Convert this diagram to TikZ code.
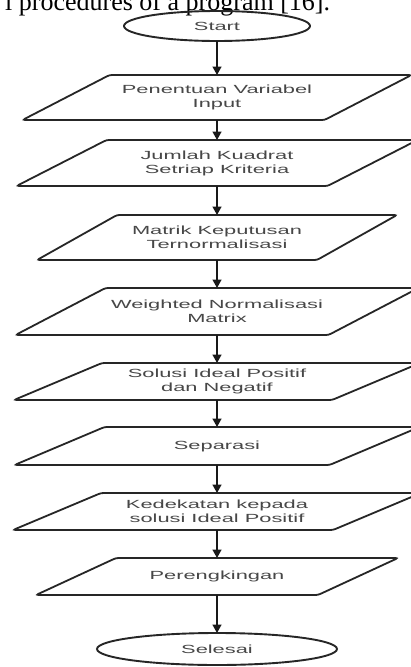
\documentclass[tikz,border=0pt]{standalone}
\usepackage{fontspec}
\setmainfont{Liberation Serif}
\newfontfamily\flowfont[FakeStretch=1.85]{Liberation Sans}
\usetikzlibrary{arrows.meta,shapes.geometric}
\tikzset{
  ptext/.style={inner sep=0pt, outer sep=0pt, align=center, text=black!72,
    font=\flowfont\fontsize{11.8}{14}\selectfont},
  pline/.style={draw=black!85, line width=1.8pt, rounded corners=2.5pt},
  term/.style={ptext, ellipse, draw=black!85, line width=1.9pt},
  flow/.style={-{Triangle[length=8.5pt,width=9pt]}, line width=1.4pt, draw=black!90},
}
% name, y, width, height, half slant, text
\newcommand\flowpara[6]{%
  \node[ptext, minimum width=#3, minimum height=#4] (#1) at (217,#2) {#6};
  \draw[pline] ([xshift=#5]#1.north west) -- ([xshift=#5]#1.north east)
    -- ([xshift=-#5]#1.south east) -- ([xshift=-#5]#1.south west) -- cycle;
}
\begin{document}
\begin{tikzpicture}[x=1pt,y=-1pt]
\useasboundingbox (0,0) rectangle (410,667);
\fill[white] (0,0) rectangle (410,667);
\node[anchor=base west, inner sep=0pt, font=\fontsize{26}{30}\selectfont] (cap) at (5,10) {l procedures of a program [16].};

\node[term, minimum width=186pt, minimum height=30pt] (st) at (217,26) {Start};
\flowpara{b1}{97.5}{302pt}{45pt}{43.5pt}{Penentuan Variabel\\Input}
\flowpara{b2}{163}{311pt}{46pt}{45pt}{Jumlah Kuadrat\\Setriap Kriteria}
\flowpara{b3}{237.5}{280pt}{45pt}{40pt}{Matrik Keputusan\\Ternormalisasi}
\flowpara{b4}{311.5}{313pt}{47pt}{45pt}{Weighted Normalisasi\\Matrix}
\flowpara{b5}{381.5}{318pt}{37pt}{44pt}{Solusi Ideal Positif\\dan Negatif}
\flowpara{b6}{446}{315pt}{38pt}{45pt}{Separasi}
\flowpara{b7}{511.5}{320pt}{37pt}{44pt}{Kedekatan kepada\\solusi Ideal Positif}
\flowpara{b8}{576.5}{282pt}{37pt}{40pt}{Perengkingan}
\node[term, minimum width=240pt, minimum height=32pt] (en) at (217,649) {Selesai};

\draw[flow] (st) -- (b1);
\draw[flow] (b1) -- (b2);
\draw[flow] (b2) -- (b3);
\draw[flow] (b3) -- (b4);
\draw[flow] (b4) -- (b5);
\draw[flow] (b5) -- (b6);
\draw[flow] (b6) -- (b7);
\draw[flow] (b7) -- (b8);
\draw[flow] (b8) -- (en);
\end{tikzpicture}
\end{document}
